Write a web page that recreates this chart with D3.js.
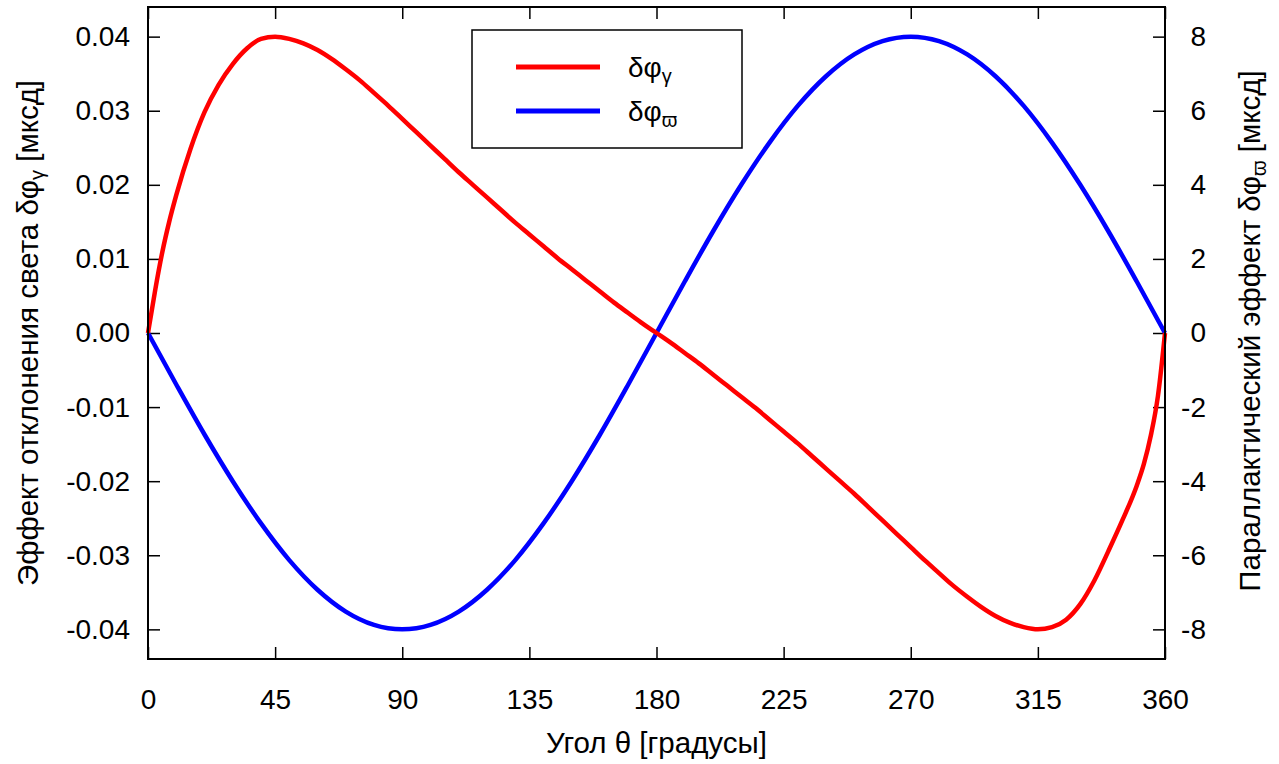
<!DOCTYPE html>
<html><head><meta charset="utf-8">
<script src="https://cdn.jsdelivr.net/npm/d3@7"></script>
<style>
html,body{margin:0;padding:0;background:#fff;}
svg text{font-family:"Liberation Sans", Arial, sans-serif;fill:#000;}
</style></head>
<body><svg id="c" width="1279" height="764"></svg>
<script>
// ---- data ----
const thetaGamma = [0,2.5,5,7.5,10,15,20,25,30,35,40,45,50,55,60,65,70,75,80,85,90,95,100,105,110,115,120,125,130,135,140,145,150,155,160,165,170,175,180,185,190,195,200,205,210,215,220,225,230,235,240,245,250,255,260,265,270,275,280,285,290,295,300,305,310,315,320,325,330,335,340,345,350,352.5,355,357.5,360];
const dphiGamma = [0,0.0057,0.0108,0.0150,0.0186,0.0248,0.0298,0.0335,0.0363,0.0384,0.0397,0.0400,0.0397,0.0391,0.0382,0.0370,0.0356,0.0341,0.0324,0.0307,0.0289,0.0271,0.0253,0.0235,0.0217,0.0200,0.0183,0.0166,0.0149,0.0133,0.0117,0.0101,0.0086,0.0071,0.0056,0.0041,0.0027,0.0013,0,-0.0013,-0.0027,-0.0041,-0.0056,-0.0071,-0.0086,-0.0101,-0.0117,-0.0133,-0.0149,-0.0166,-0.0183,-0.0200,-0.0217,-0.0235,-0.0253,-0.0271,-0.0289,-0.0307,-0.0324,-0.0341,-0.0356,-0.0370,-0.0382,-0.0391,-0.0397,-0.0400,-0.0397,-0.0387,-0.0366,-0.0334,-0.0294,-0.0252,-0.0206,-0.0177,-0.0138,-0.0085,0];
const thetaVarpi = [0,10,20,30,40,50,60,70,80,90,100,110,120,130,140,150,160,170,180,190,200,210,220,230,240,250,260,270,280,290,300,310,320,330,340,350,360];
const dphiVarpi = [0,-1.39,-2.74,-4.00,-5.14,-6.13,-6.93,-7.52,-7.88,-8.00,-7.88,-7.52,-6.93,-6.13,-5.14,-4.00,-2.74,-1.39,0,1.39,2.74,4.00,5.14,6.13,6.93,7.52,7.88,8.00,7.88,7.52,6.93,6.13,5.14,4.00,2.74,1.39,0];
const xTicks = [0,45,90,135,180,225,270,315,360];
const yLeftTicks = [-0.04,-0.03,-0.02,-0.01,0,0.01,0.02,0.03,0.04];
const yRightTicks = [-8,-6,-4,-2,0,2,4,6,8];
const xTitle = "Угол θ [градусы]";
const legendLabels = [["δφ","γ","#ff0000"],["δφ","ϖ","#0000ff"]];

// ---- layout ----
const L=148, R=1165, T=7, B=659;
const FS=28, FT=29.5;
const svg = d3.select("#c");
const x = d3.scaleLinear().domain([0,360]).range([L,R]);
const yL = d3.scaleLinear().domain([-0.044,0.044]).range([B,T]);
const yR = d3.scaleLinear().domain([-8.8,8.8]).range([B,T]);
const tick=12;
const hy = f => d => f(d).replace("−","-");

function styleAxis(g){
  g.select(".domain").remove();
  g.selectAll(".tick line").attr("stroke","#000").attr("stroke-width",1.5);
  g.selectAll(".tick text").attr("font-size",FS).attr("font-family","Liberation Sans, Arial, sans-serif").attr("fill","#000");
}
svg.append("g").attr("transform",`translate(0,${B})`)
  .call(d3.axisBottom(x).tickValues(xTicks).tickFormat(hy(d3.format("d"))).tickSizeInner(-tick).tickSizeOuter(0).tickPadding(30))
  .call(styleAxis);
svg.append("g").attr("transform",`translate(0,${T})`)
  .call(d3.axisTop(x).tickValues(xTicks).tickFormat("").tickSizeInner(-tick).tickSizeOuter(0))
  .call(styleAxis);
svg.append("g").attr("transform",`translate(${L},0)`)
  .call(d3.axisLeft(yL).tickValues(yLeftTicks).tickFormat(hy(d3.format(".2f"))).tickSizeInner(-tick).tickSizeOuter(0).tickPadding(18))
  .call(styleAxis);
const ra = svg.append("g").attr("transform",`translate(${R},0)`)
  .call(d3.axisRight(yR).tickValues(yRightTicks).tickFormat(hy(d3.format("d"))).tickSizeInner(-tick).tickSizeOuter(0).tickPadding(17))
  .call(styleAxis);
ra.selectAll(".tick text").attr("text-anchor","end").attr("dx",24);

// curves
const lineG = d3.line().x((d,i)=>x(thetaGamma[i])).y(d=>yL(d)).curve(d3.curveMonotoneX);
const lineV = d3.line().x((d,i)=>x(thetaVarpi[i])).y(d=>yR(d)).curve(d3.curveMonotoneX);
svg.append("path").attr("d",lineV(dphiVarpi)).attr("fill","none").attr("stroke","#0000ff").attr("stroke-width",4.5).attr("stroke-linejoin","round");
svg.append("path").attr("d",lineG(dphiGamma)).attr("fill","none").attr("stroke","#ff0000").attr("stroke-width",4.5).attr("stroke-linejoin","round");

// frame
svg.append("rect").attr("x",L).attr("y",T).attr("width",R-L).attr("height",B-T)
  .attr("fill","none").attr("stroke","#000").attr("stroke-width",2);

// x title
svg.append("text").attr("x",(L+R)/2).attr("y",753).attr("text-anchor","middle").attr("font-size",FT).text(xTitle);

// left title
const lt = svg.append("text").attr("transform",`translate(38,333) rotate(-90)`).attr("text-anchor","middle").attr("font-size",FT);
lt.append("tspan").text("Эффект отклонения света δφ");
lt.append("tspan").attr("font-size",20).attr("dy",6).text("γ");
lt.append("tspan").attr("dy",-6).text(" [мксд]");
// right title
const rt = svg.append("text").attr("transform",`translate(1260,331) rotate(-90)`).attr("text-anchor","middle").attr("font-size",FT);
rt.append("tspan").text("Параллактический эффект δφ");
rt.append("tspan").attr("font-size",20).attr("dy",6).text("ϖ");
rt.append("tspan").attr("dy",-6).text(" [мксд]");

// legend
svg.append("rect").attr("x",472).attr("y",30).attr("width",270).attr("height",118)
  .attr("fill","#fff").attr("stroke","#000").attr("stroke-width",1.5);
legendLabels.forEach((lab,i)=>{
  const ly = 67 + i*44;
  svg.append("line").attr("x1",516).attr("x2",600).attr("y1",ly).attr("y2",ly).attr("stroke",lab[2]).attr("stroke-width",5);
  const t = svg.append("text").attr("x",628).attr("y",ly+10).attr("font-size",FS);
  t.append("tspan").text(lab[0]);
  t.append("tspan").attr("font-size",20).attr("dy",6).text(lab[1]);
});
</script></body></html>
